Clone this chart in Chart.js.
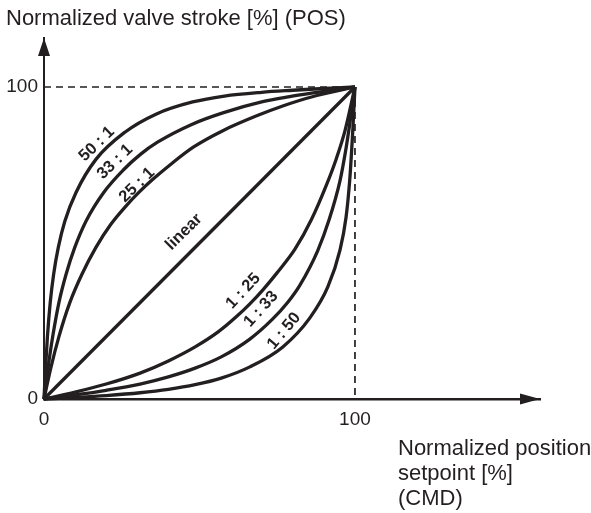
<!DOCTYPE html>
<html>
<head>
<meta charset="utf-8">
<script src="https://cdn.jsdelivr.net/npm/chart.js@4/dist/chart.umd.min.js"></script>
<style>
  html, body { margin: 0; padding: 0; background: #ffffff; }
  canvas { display: block; }
</style>
</head>
<body>
<canvas id="chart" width="591" height="513"></canvas>
<script>
// Characteristic curves: normalized setpoint (CMD, x) vs. valve stroke (POS, y), in %
const axisTicks = [0, 100];

const linearX = [0, 100];
const linearY = [0, 100];

// Progressive characteristics (stroke rises fast at low setpoint)
const r50to1X = [0, 0.5, 1.1, 2.0, 3.1, 4.6, 6.7, 10.3, 16.7, 26, 36, 47.8, 58, 70, 80, 87, 100];
const r50to1Y = [0, 10, 20, 30.9, 40, 48.6, 57, 66.2, 76.8, 85.5, 91.3, 95.2, 97.1, 98.3, 98.95, 99.35, 100];

const r33to1X = [0, 1.3, 2.8, 4.8, 7.1, 9.9, 13.5, 19.2, 25.5, 31, 36.5, 47.5, 57.5, 70, 79, 86, 100];
const r33to1Y = [0, 10, 20, 30.9, 40, 48.6, 57, 66.2, 73.4, 78.4, 82.3, 88.0, 91.7, 95.2, 96.9, 98.0, 100];

const r25to1X = [0, 2.2, 4.8, 8.3, 12.2, 16.7, 21.5, 26.5, 30.5, 35, 40.5, 48, 57.5, 69, 77, 86, 100];
const r25to1Y = [0, 10, 20, 30.9, 40, 48.6, 56, 62, 66.2, 70.4, 75, 80.7, 86, 91, 94, 96.8, 100];

// Equal-percentage style characteristics (stroke rises slowly at low setpoint)
const r1to25X = [0, 10, 20, 30.9, 40, 48.6, 56, 62, 66.2, 70.4, 75, 80.7, 86, 91, 94, 96.8, 100];
const r1to25Y = [0, 2.2, 4.8, 8.3, 12.2, 16.7, 21.5, 26.5, 30.5, 35, 40.5, 48, 57.5, 69, 77, 86, 100];

const r1to33X = [0, 10, 20, 30.9, 40, 48.6, 57, 66.2, 73.4, 78.4, 82.3, 88.0, 91.7, 95.2, 96.9, 98.0, 100];
const r1to33Y = [0, 1.3, 2.8, 4.8, 7.1, 9.9, 13.5, 19.2, 25.5, 31, 36.5, 47.5, 57.5, 70, 79, 86, 100];

const r1to50X = [0, 10, 20, 30.9, 40, 48.6, 57, 66.2, 76.8, 85.5, 91.3, 95.2, 97.1, 98.3, 98.95, 99.35, 100];
const r1to50Y = [0, 0.5, 1.1, 2.0, 3.1, 4.6, 6.7, 10.3, 16.7, 26, 36, 47.8, 58, 70, 80, 87, 100];

// Reference lines to the 100 % / 100 % corner
const guideX = [0, 100, 100];
const guideY = [100, 100, 0];

const curveNames = ['50 : 1', '33 : 1', '25 : 1', 'linear', '1 : 25', '1 : 33', '1 : 50'];

const yTitle = 'Normalized valve stroke [%] (POS)';
const xTitle = ['Normalized position', 'setpoint [%]', '(CMD)'];

const INK = '#231f20';
const FONT = '"Liberation Sans", Arial, Helvetica, sans-serif';

const pts = (xs, ys) => xs.map((x, i) => ({ x: x, y: ys[i] }));

const curveStyle = {
  borderColor: INK,
  borderWidth: 3.3,
  pointRadius: 0,
  fill: false,
  cubicInterpolationMode: 'monotone',
  clip: 4
};

// Label anchors in data units, with text rotation in degrees
const labelPlacement = [
  { x: 17.0, y: 81.7, rot: -44 },
  { x: 22.8, y: 76.0, rot: -44 },
  { x: 29.9, y: 68.6, rot: -44 },
  { x: 45.0, y: 53.5, rot: -45 },
  { x: 64.1, y: 34.6, rot: -47 },
  { x: 69.8, y: 28.8, rot: -48 },
  { x: 77.2, y: 21.8, rot: -50 }
];

const decorations = {
  id: 'decorations',
  afterDraw(chart) {
    const ctx = chart.ctx;
    const area = chart.chartArea;
    const xs = chart.scales.x;
    const ys = chart.scales.y;
    const ox = xs.getPixelForValue(0);
    const oy = ys.getPixelForValue(0);
    ctx.save();
    ctx.fillStyle = INK;

    // Arrow heads at the ends of both axes
    ctx.beginPath();
    ctx.moveTo(area.right, oy);
    ctx.lineTo(area.right - 20, oy - 5.5);
    ctx.lineTo(area.right - 20, oy + 5.5);
    ctx.closePath();
    ctx.fill();

    ctx.beginPath();
    ctx.moveTo(ox, area.top);
    ctx.lineTo(ox - 6, area.top + 18);
    ctx.lineTo(ox + 6, area.top + 18);
    ctx.closePath();
    ctx.fill();

    // Axis titles
    ctx.font = '22px ' + FONT;
    ctx.textAlign = 'left';
    ctx.textBaseline = 'alphabetic';
    ctx.fillText(yTitle, 6, 25);
    xTitle.forEach((line, i) => ctx.fillText(line, 398, 455 + i * 25));

    // Curve labels
    ctx.font = 'bold 16.5px ' + FONT;
    ctx.textAlign = 'center';
    ctx.textBaseline = 'middle';
    curveNames.forEach((name, i) => {
      const p = labelPlacement[i];
      ctx.save();
      ctx.translate(xs.getPixelForValue(p.x), ys.getPixelForValue(p.y));
      ctx.rotate(p.rot * Math.PI / 180);
      ctx.fillText(name, 0, 0);
      ctx.restore();
    });
    ctx.restore();
  }
};

const tickFont = { family: FONT, size: 19 };

new Chart(document.getElementById('chart'), {
  type: 'line',
  data: {
    datasets: [
      { label: 'guide', data: pts(guideX, guideY), borderColor: INK, borderWidth: 1.7,
        borderDash: [7, 5], pointRadius: 0, fill: false, tension: 0 },
      Object.assign({ label: curveNames[0], data: pts(r50to1X, r50to1Y) }, curveStyle),
      Object.assign({ label: curveNames[1], data: pts(r33to1X, r33to1Y) }, curveStyle),
      Object.assign({ label: curveNames[2], data: pts(r25to1X, r25to1Y) }, curveStyle),
      Object.assign({ label: curveNames[3], data: pts(linearX, linearY) }, curveStyle),
      Object.assign({ label: curveNames[4], data: pts(r1to25X, r1to25Y) }, curveStyle),
      Object.assign({ label: curveNames[5], data: pts(r1to33X, r1to33Y) }, curveStyle),
      Object.assign({ label: curveNames[6], data: pts(r1to50X, r1to50Y) }, curveStyle)
    ]
  },
  options: {
    responsive: false,
    animation: false,
    devicePixelRatio: 1,
    layout: { padding: { top: 38, right: 51, left: 0, bottom: 0 } },
    plugins: { legend: { display: false }, tooltip: { enabled: false } },
    scales: {
      x: {
        type: 'linear',
        min: 0,
        max: 159.5,
        afterBuildTicks: s => { s.ticks = axisTicks.map(v => ({ value: v })); },
        afterFit: s => { s.height = 114; },
        grid: { display: false, drawTicks: false },
        border: { display: true, color: INK, width: 2.4 },
        ticks: { font: tickFont, color: INK, padding: 9, maxRotation: 0 }
      },
      y: {
        type: 'linear',
        min: 0,
        max: 115.7,
        afterBuildTicks: s => { s.ticks = axisTicks.map(v => ({ value: v })); },
        afterFit: s => { s.width = 44; },
        grid: { display: false, drawTicks: false },
        border: { display: true, color: INK, width: 2 },
        ticks: { font: tickFont, color: INK, padding: 6 }
      }
    }
  },
  plugins: [decorations]
});
</script>
</body>
</html>
